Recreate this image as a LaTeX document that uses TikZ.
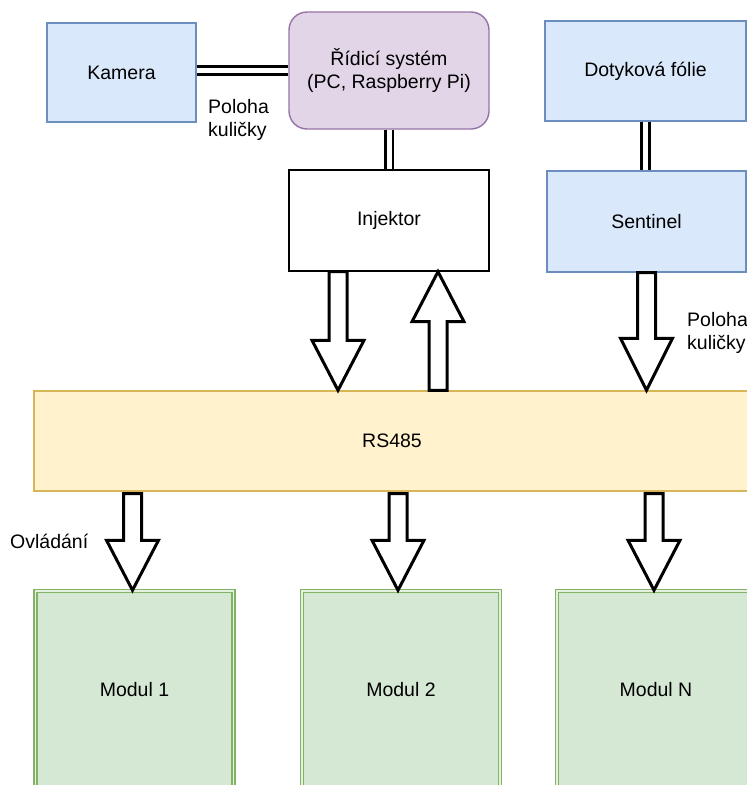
\documentclass[tikz,border=0pt]{standalone}
\usepackage{fontspec}
\setmainfont{Liberation Sans}
\usetikzlibrary{calc}
\definecolor{bfill}{HTML}{DAE8FC}\definecolor{bline}{HTML}{6C8EBF}
\definecolor{pfill}{HTML}{E1D5E7}\definecolor{pline}{HTML}{9673A6}
\definecolor{yfill}{HTML}{FFF2CC}\definecolor{yline}{HTML}{D6B656}
\definecolor{gfill}{HTML}{D5E8D4}\definecolor{gline}{HTML}{82B366}
\definecolor{ggap}{HTML}{E4F0E0}
\newcommand\varrow[3]{% #1 tail, #2 tip, #3 head offset (neg = down)
  \draw[blockarr] ($(#1)+(-9,0)$) -- ($(#2)+(-9,#3)$) -- ($(#2)+(-26,#3)$) -- (#2)
    -- ($(#2)+(26,#3)$) -- ($(#2)+(9,#3)$) -- ($(#1)+(9,0)$) -- cycle;}
\begin{document}
\begin{tikzpicture}[x=1pt,y=-1pt,
  every node/.style={font=\fontsize{19.5}{23.5}\selectfont, inner sep=0pt},
  box/.style={draw, line width=1.4pt, minimum width=#1, align=center},
  bluebox/.style={box=#1, fill=bfill, draw=bline},
  link/.style={draw=black, line width=2.6pt, double=white, double distance=5pt},
  blockarr/.style={draw=black, fill=white, line width=3pt, line join=miter},
  modbox/.style={draw=gline, line width=1.5pt, double=ggap, double distance=1.8pt, fill=gfill,
     minimum width=198pt, minimum height=198pt},
  lbl/.style={anchor=west, align=left}]
\useasboundingbox (0,0) rectangle (747,785);
\clip (0,0) rectangle (747,785);
% nodes
\node[bluebox=149pt, minimum height=99pt] (kam) at (121.5,72.5) {Kamera};
\node[box=200pt, minimum height=117pt, fill=pfill, draw=pline, rounded corners=18pt] (rid) at (389,70.5) {Řídicí systém\\(PC, Raspberry Pi)};
\node[bluebox=201pt, minimum height=100pt] (dot) at (645.5,71) {Dotyková fólie};
\node[box=200pt, minimum height=101pt, fill=white, draw=black] (inj) at (389,220.5) {Injektor};
\node[bluebox=199pt, minimum height=101pt] (sen) at (646.5,221.5) {Sentinel};
\node[box=716pt, minimum height=100pt, fill=yfill, draw=yline] (rs) at (392,441) {RS485};
\node[modbox] (m1) at (134.5,690) {Modul 1};
\node[modbox] (m2) at (401,690) {Modul 2};
\node[modbox] (mn) at (656,690) {Modul N};
% labels
\node[lbl] (l1) at (208,120) {Poloha\\kuličky};
\node[lbl] (l2) at (687,333) {Poloha\\kuličky};
\node[lbl] (l3) at (10,541) {Ovládání};
% double links
\draw[link] (rid.west -| kam.east) -- (rid.west);
\draw[link] (rid.south) -- (inj.north);
\draw[link] (sen.north -| dot.south) -- (dot.south);
% block arrows
\coordinate (a1s) at ($(inj.south)+(-51,0)$);
\coordinate (a1e) at (a1s |- rs.north);
\coordinate (a2e) at ($(inj.south)+(49,0)$);
\coordinate (a2s) at (a2e |- rs.north);
\coordinate (a3s) at (sen.south);
\coordinate (a3e) at (a3s |- rs.north);
\coordinate (b1e) at ($(m1.north)+(-2,0)$);
\coordinate (b1s) at (b1e |- rs.south);
\coordinate (b2e) at ($(m2.north)+(-3,0)$);
\coordinate (b2s) at (b2e |- rs.south);
\coordinate (b3e) at ($(mn.north)+(-2,0)$);
\coordinate (b3s) at (b3e |- rs.south);
\varrow{a1s}{a1e}{-50}
\varrow{a2s}{a2e}{50}
\varrow{a3s}{a3e}{-52}
\varrow{$(b1s)+(0,2)$}{b1e}{-50}
\varrow{$(b2s)+(0,2)$}{b2e}{-50}
\varrow{$(b3s)+(0,2)$}{b3e}{-50}
\end{tikzpicture}
\end{document}
